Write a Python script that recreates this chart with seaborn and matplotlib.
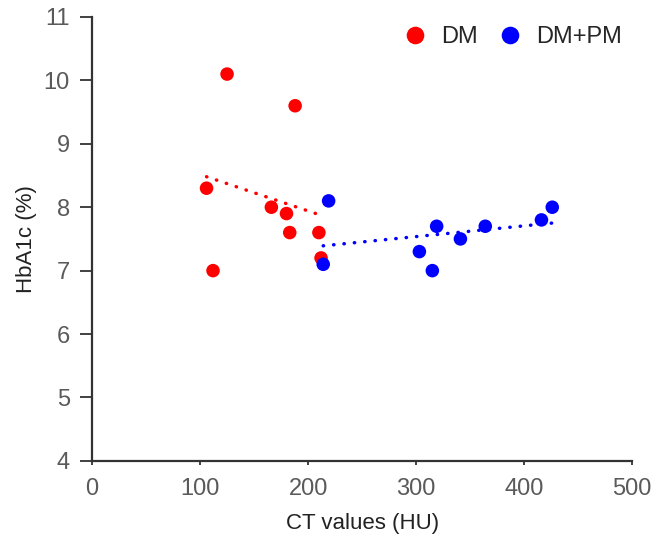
import pandas as pd
import seaborn as sns
import matplotlib.pyplot as plt

# values
dm_ct = [125, 188, 106, 166, 180, 183, 210, 212, 112]
dm_hba1c = [10.1, 9.6, 8.3, 8.0, 7.9, 7.6, 7.6, 7.2, 7.0]
pm_ct = [219, 214, 319, 303, 315, 341, 364, 416, 426]
pm_hba1c = [8.1, 7.1, 7.7, 7.3, 7.0, 7.5, 7.7, 7.8, 8.0]
groups = ["DM", "DM+PM"]
colors = {"DM": "#ff0000", "DM+PM": "#0000ff"}

data = pd.DataFrame({
    "ct": dm_ct + pm_ct,
    "hba1c": dm_hba1c + pm_hba1c,
    "group": [groups[0]] * len(dm_ct) + [groups[1]] * len(pm_ct),
})

sns.set_style("ticks")
plt.rcParams["font.family"] = ["Liberation Sans", "DejaVu Sans"]

fig = plt.figure(figsize=(6.62, 5.48), dpi=100)
ax = fig.add_axes([0.139, 0.159, 0.816, 0.81])

# regression lines (least squares, dotted)
for g in groups:
    sub = data[data["group"] == g]
    sns.regplot(data=sub, x="ct", y="hba1c", scatter=False, ci=None, truncate=True,
                color=colors[g], ax=ax,
                line_kws={"linestyle": (0, (0.1, 2.9)), "linewidth": 2.5,
                          "dash_capstyle": "round"})

sns.scatterplot(data=data, x="ct", y="hba1c", hue="group", palette=colors,
                s=95, edgecolor="none", ax=ax, zorder=3)

ax.set_xlim(0, 500)
ax.set_ylim(4, 11)
ax.set_xticks([0, 100, 200, 300, 400, 500])
ax.set_yticks([4, 5, 6, 7, 8, 9, 10, 11])
ax.set_xlabel("CT values (HU)", fontsize=16, color="#222222", labelpad=10)
ax.set_ylabel("HbA1c (%)", fontsize=16, color="#222222", labelpad=5)
ax.tick_params(axis="both", labelsize=17, labelcolor="#5a5a5a", color="#333333",
               width=1.3, direction="out")
ax.tick_params(axis="y", length=9, pad=7)
ax.tick_params(axis="x", length=3, pad=9)
sns.despine(ax=ax)
for sp in ["left", "bottom"]:
    ax.spines[sp].set_color("#333333")
    ax.spines[sp].set_linewidth(1.6)

ax.legend(loc="upper right", ncol=2, frameon=False, fontsize=17, title=None,
          handletextpad=0.1, columnspacing=0.4, markerscale=1.3,
          bbox_to_anchor=(1.021, 1.027))

fig.savefig("out.png", dpi=100)
